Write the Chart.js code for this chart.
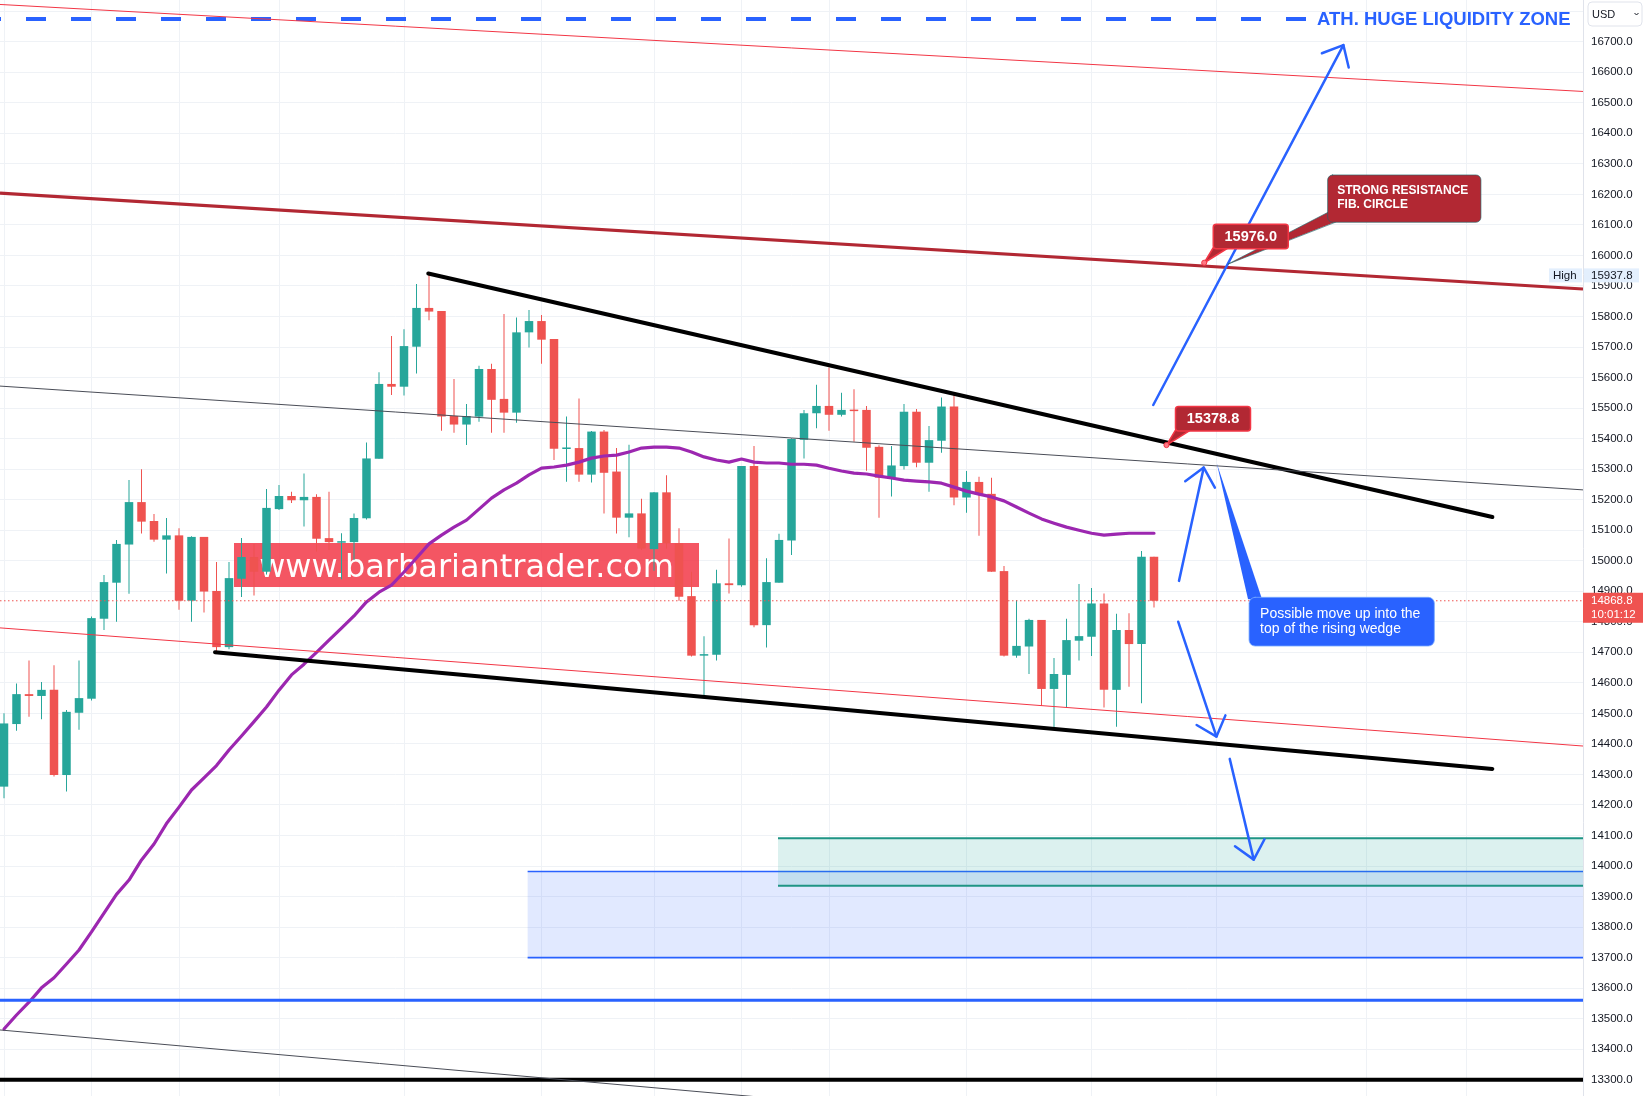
<!DOCTYPE html>
<html><head><meta charset="utf-8">
<script src="https://cdn.jsdelivr.net/npm/chart.js@4.4.1/dist/chart.umd.min.js"></script>
<style>html,body{margin:0;padding:0;background:#fff;overflow:hidden}canvas{display:block}</style>
</head><body>
<canvas id="c" width="1648" height="1096"></canvas>
<script>
// ---------------- DATA ----------------
const open  = [14260,14465,14563,14557,14577,14298,14502,14548,14810,14928,15053,15192,15130,15069,15083,14869,15078,14901,14717,14941,
               15012,14964,15169,15212,15198,15209,15074,15059,15061,15139,15334,15579,15570,15701,15828,15818,15474,15446,15472,15628,
               15530,15485,15748,15785,15726,15366,15369,15282,15423,15292,15141,15155,15038,15224,15057,14884,14689,14692,14926,14920,
               15310,14789,14928,15066,15396,15483,15507,15478,15494,15494,15373,15272,15310,15488,15321,15393,15505,15207,15258,15219,
               14966,14689,14719,14806,14580,14626,14738,14751,14860,14577,14773,14727,15013];
const high  = [14500,14598,14673,14603,14658,14511,14673,14817,14953,15068,15264,15300,15153,15140,15106,15080,15078,14996,14996,15074,
               15055,15235,15248,15226,15286,15218,15226,15090,15155,15387,15617,15736,15758,15906,15938,15818,15595,15513,15639,15645,
               15808,15797,15821,15805,15726,15472,15531,15425,15428,15369,15380,15203,15225,15280,15106,14964,14753,14970,15073,15310,
               15376,15008,15088,15401,15494,15576,15633,15550,15562,15507,15378,15376,15513,15497,15441,15535,15543,15294,15275,15272,
               14983,14871,14810,14806,14681,14810,14924,14911,14893,14826,14828,15032,15013];
const low   = [14222,14443,14489,14481,14293,14244,14446,14542,14773,14800,14892,15089,15062,14958,14839,14800,14830,14699,14710,14881,
               14886,14955,15166,15189,15112,15030,15035,14939,15002,15135,15334,15543,15541,15613,15788,15426,15419,15379,15455,15419,
               15419,15452,15698,15645,15330,15259,15259,15256,15155,15089,15077,15035,14967,15040,14869,14686,14555,14673,14893,14915,
               14782,14716,14928,15019,15335,15434,15426,15472,15390,15295,15141,15210,15299,15306,15226,15354,15182,15157,15082,14964,
               14686,14682,14629,14525,14448,14519,14673,14688,14519,14456,14587,14533,14847];
const close = [14467,14563,14557,14577,14298,14505,14550,14812,14930,15055,15192,15128,15069,15083,14869,15078,14899,14717,14943,15012,
               14964,15173,15212,15198,15209,15072,15061,15064,15140,15335,15579,15570,15703,15828,15816,15472,15446,15474,15628,15527,
               15485,15748,15785,15724,15367,15369,15282,15423,15288,15141,15155,15040,15224,15057,14882,14689,14694,14926,14920,15310,
               14789,14930,15068,15399,15483,15507,15478,15494,15490,15370,15272,15312,15488,15321,15395,15505,15207,15258,15217,14964,
               14689,14721,14806,14580,14629,14740,14753,14860,14577,14773,14727,15013,14868.8];
const ema   = [13466,13512,13554,13601,13634,13679,13725,13784,13846,13907,13954,14020,14072,14139,14193,14249,14289,14329,14380,14426,
               14473,14521,14576,14626,14661,14700,14740,14779,14819,14865,14897,14920,14963,15009,15055,15084,15110,15133,15169,15205,
               15232,15254,15281,15303,15307,15313,15323,15336,15343,15346,15356,15369,15372,15372,15369,15356,15340,15330,15323,15333,
               15323,15320,15320,15316,15316,15313,15303,15294,15287,15284,15277,15271,15264,15261,15258,15254,15241,15228,15218,15209,
               15196,15176,15156,15137,15123,15110,15100,15090,15084,15087,15090,15090,15090];
const gridIdx   = [0,7,14,22,32,43,52,59,66,77,87,97,109,117];
const lastPrice = 14868.8;
const lastTime  = '10:01:12';
const highPrice = 15937.8;

// drawn lines: [barIndex, price] pairs
const topRedLine     = [[-0.32,16822],[126.32,16537]];
const resistanceLine = [[-0.32,16204],[126.32,15890]];
const midGrayLine    = [[-0.32,15572],[126.32,15232]];
const lowRedLine     = [[-0.32,14780],[126.32,14393]];
const wedgeTop       = [[33.94,15941],[119.07,15143]];
const wedgeBottom    = [[16.88,14700],[119.07,14318]];
const bottomGrayLine = [[-0.32,13463],[126.32,13005]];
const athLevel = 16774, athEndIdx = 104.16, athTextIdx = 105.04;
const blackLevel = 13300;
const blueLevel  = 13560;
const greenZone = {fromIdx: 61.92, top: 14091, bottom: 13935};
const blueZone  = {fromIdx: 41.89, top: 13982, bottom: 13700};
const arrowFrom = [[91.94,15510],[94.0,14934],[93.94,14800],[98.06,14351]];
const arrowTo   = [[107.15,16689],[95.98,15305],[97.0,14424],[99.98,14021]];
const priceTagAt   = [[96.02,15976],[93.0,15378.8]];
const priceTagText = ['15976.0','15378.8'];
const redNoteTip   = [97.94,15972];
const redNoteText  = ['STRONG RESISTANCE','FIB. CIRCLE'];
const blueNoteTip  = [97.02,15319];
const blueNoteText = ['Possible move up into the','top of the rising wedge'];
const watermarkAt  = [18.4,15058];
const watermarkText = 'www.barbariantrader.com';
const athText = 'ATH. HUGE LIQUIDITY ZONE';

const xMin = -0.32, xMax = 126.32, yMin = 13246.7, yMax = 16836.6;

// ---------------- CHART ----------------
const idx = open.map((_, i) => i);
const col = idx.map(i => close[i] >= open[i] ? '#26a69a' : '#ef5350');
const RED = '#ef5350', BLUE = '#2962ff';

function seg(pts, color, width, extra) {
  return Object.assign({type:'line', data: pts.map(p => ({x:p[0], y:p[1]})), borderColor: color,
    borderWidth: width, pointRadius: 0, fill: false, tension: 0, clip: 0, order: 1}, extra || {});
}

function rrect(ctx, x, y, w, h, r) {
  ctx.beginPath(); ctx.moveTo(x + r, y);
  ctx.arcTo(x + w, y, x + w, y + h, r); ctx.arcTo(x + w, y + h, x, y + h, r);
  ctx.arcTo(x, y + h, x, y, r); ctx.arcTo(x, y, x + w, y, r); ctx.closePath();
}

const overlay = {
  id: 'overlay',
  beforeDatasetsDraw(chart) {
    const ctx = chart.ctx, X = chart.scales.x, Y = chart.scales.y, a = chart.chartArea;
    ctx.save();
    ctx.beginPath(); ctx.rect(a.left, a.top, a.right - a.left, a.bottom - a.top); ctx.clip();
    // watermark
    const wx = X.getPixelForValue(watermarkAt[0]), wy = Y.getPixelForValue(watermarkAt[1]);
    ctx.fillStyle = 'rgba(242,54,69,0.84)';
    ctx.fillRect(wx, wy, 465, 44);
    ctx.fillStyle = '#ffffff'; ctx.font = '32px "DejaVu Sans"'; ctx.textAlign = 'center'; ctx.textBaseline = 'alphabetic';
    ctx.fillText(watermarkText, wx + 232.5, wy + 34);
    // zones
    [[blueZone, 'rgba(41,98,255,0.14)', BLUE, 1.6], [greenZone, 'rgba(38,166,154,0.16)', '#1f9585', 2]].forEach(([z, fill, line, lw]) => {
      const x0 = X.getPixelForValue(z.fromIdx), yt = Y.getPixelForValue(z.top), yb = Y.getPixelForValue(z.bottom);
      ctx.fillStyle = fill; ctx.fillRect(x0, yt, a.right - x0, yb - yt);
      ctx.strokeStyle = line; ctx.lineWidth = lw;
      ctx.beginPath(); ctx.moveTo(x0, yt); ctx.lineTo(a.right, yt); ctx.moveTo(x0, yb); ctx.lineTo(a.right, yb); ctx.stroke();
    });
    ctx.restore();
  },
  afterDatasetsDraw(chart) {
    const ctx = chart.ctx, X = chart.scales.x, Y = chart.scales.y, a = chart.chartArea;
    ctx.save();
    ctx.beginPath(); ctx.rect(a.left, a.top, a.right - a.left, a.bottom - a.top); ctx.clip();
    // last price dotted line
    const ly = Y.getPixelForValue(lastPrice);
    ctx.strokeStyle = RED; ctx.lineWidth = 1; ctx.setLineDash([1.5, 2.5]);
    ctx.beginPath(); ctx.moveTo(a.left, ly); ctx.lineTo(a.right, ly); ctx.stroke();
    ctx.setLineDash([]);
    // ATH text
    ctx.fillStyle = BLUE; ctx.font = 'bold 18.5px "Liberation Sans"'; ctx.textAlign = 'left'; ctx.textBaseline = 'middle';
    ctx.fillText(athText, X.getPixelForValue(athTextIdx), Y.getPixelForValue(athLevel) + 1);
    // arrows
    ctx.strokeStyle = BLUE; ctx.lineWidth = 2.5; ctx.lineCap = 'round'; ctx.lineJoin = 'round';
    arrowFrom.forEach((f, k) => {
      const x1 = X.getPixelForValue(f[0]), y1 = Y.getPixelForValue(f[1]);
      const x2 = X.getPixelForValue(arrowTo[k][0]), y2 = Y.getPixelForValue(arrowTo[k][1]);
      ctx.beginPath(); ctx.moveTo(x1, y1); ctx.lineTo(x2, y2); ctx.stroke();
      const ang = Math.atan2(y1 - y2, x1 - x2), L = 23, s = 0.72;
      ctx.beginPath();
      ctx.moveTo(x2 + L * Math.cos(ang + s), y2 + L * Math.sin(ang + s));
      ctx.lineTo(x2, y2);
      ctx.lineTo(x2 + L * Math.cos(ang - s), y2 + L * Math.sin(ang - s));
      ctx.stroke();
    });
    // blue note
    {
      const tx = X.getPixelForValue(blueNoteTip[0]), ty = Y.getPixelForValue(blueNoteTip[1]);
      const bx = tx + 32.3, by = ty + 134, bw = 185.3, bh = 48.7;
      ctx.fillStyle = BLUE;
      ctx.beginPath(); ctx.moveTo(tx, ty); ctx.lineTo(bx - 1, by + 2); ctx.lineTo(bx + 13, by + 2); ctx.closePath(); ctx.fill();
      rrect(ctx, bx, by, bw, bh, 6); ctx.fill();
      ctx.strokeStyle = 'rgba(120,170,255,0.8)'; ctx.lineWidth = 1; ctx.stroke();
      ctx.fillStyle = '#ffffff'; ctx.font = '14px "Liberation Sans"'; ctx.textAlign = 'left'; ctx.textBaseline = 'middle';
      ctx.fillText(blueNoteText[0], bx + 11, by + 17);
      ctx.fillText(blueNoteText[1], bx + 11, by + 32);
    }
    // red note
    {
      const tx = X.getPixelForValue(redNoteTip[0]), ty = Y.getPixelForValue(redNoteTip[1]);
      const bx = tx + 99.4, by = ty - 89, bw = 153.3, bh = 47.3;
      ctx.fillStyle = '#b22833';
      ctx.beginPath(); ctx.moveTo(tx, ty); ctx.lineTo(bx + 1, by + 37); ctx.lineTo(bx + 8, by + bh - 0.5); ctx.closePath(); ctx.fill();
      ctx.strokeStyle = 'rgba(30,100,105,0.8)'; ctx.lineWidth = 0.8; ctx.stroke();
      rrect(ctx, bx, by, bw, bh, 5); ctx.fill(); ctx.stroke();
      ctx.fillStyle = '#ffffff'; ctx.font = 'bold 12px "Liberation Sans"'; ctx.textAlign = 'left'; ctx.textBaseline = 'middle';
      ctx.fillText(redNoteText[0], bx + 9.6, by + 16);
      ctx.fillText(redNoteText[1], bx + 9.6, by + 30);
    }
    // price tags
    priceTagAt.forEach((p, k) => {
      const dx = X.getPixelForValue(p[0]), dy = Y.getPixelForValue(p[1]);
      const bx = dx + 9, by = dy - 38.5, bw = 75, bh = 24.5;
      ctx.fillStyle = '#b22833'; ctx.strokeStyle = '#f23645'; ctx.lineWidth = 1.5;
      ctx.beginPath(); ctx.moveTo(dx, dy); ctx.lineTo(bx, by + bh - 1); ctx.lineTo(bx + 15, by + bh - 1); ctx.closePath(); ctx.fill(); ctx.stroke();
      rrect(ctx, bx, by, bw, bh, 3); ctx.fill(); ctx.stroke();
      ctx.fillStyle = '#ffffff'; ctx.font = 'bold 14.5px "Liberation Sans"'; ctx.textAlign = 'center'; ctx.textBaseline = 'middle';
      ctx.fillText(priceTagText[k], bx + bw / 2, by + bh / 2 + 0.5);
      ctx.beginPath(); ctx.arc(dx, dy, 2.6, 0, Math.PI * 2);
      ctx.fillStyle = '#ff7a86'; ctx.fill(); ctx.strokeStyle = '#f23645'; ctx.lineWidth = 1; ctx.stroke();
    });
    ctx.restore();
  },
  afterDraw(chart) {
    const ctx = chart.ctx, Y = chart.scales.y, a = chart.chartArea;
    ctx.save();
    ctx.font = '11.5px "Liberation Sans"'; ctx.textBaseline = 'middle'; ctx.textAlign = 'left';
    // High label
    const hy = Y.getPixelForValue(highPrice) + 1;
    ctx.fillStyle = '#e3effd';
    ctx.fillRect(1549, hy - 7, a.right - 1549 - 1, 14);
    ctx.fillRect(a.right + 1, hy - 7, 55, 14);
    ctx.fillStyle = '#131722';
    ctx.fillText('High', 1553, hy);
    ctx.fillText(highPrice.toFixed(1), 1591, hy);
    // last price label
    const ly = Y.getPixelForValue(lastPrice);
    ctx.fillStyle = RED; ctx.fillRect(a.right, ly - 8, 60, 30);
    ctx.fillStyle = '#ffffff';
    ctx.fillText(lastPrice.toFixed(1), 1591, ly + 0.5);
    ctx.fillText(lastTime, 1591, ly + 14);
    // USD box
    ctx.fillStyle = '#ffffff'; rrect(ctx, 1588, 2, 54, 24, 4); ctx.fill();
    ctx.strokeStyle = '#e0e3eb'; ctx.lineWidth = 1; ctx.stroke();
    ctx.fillStyle = '#131722'; ctx.font = '11px "Liberation Sans"';
    ctx.fillText('USD', 1592, 14.5);
    ctx.strokeStyle = '#131722'; ctx.lineWidth = 1;
    ctx.beginPath(); ctx.moveTo(1634.5, 13); ctx.lineTo(1636.5, 15); ctx.lineTo(1638.5, 13); ctx.stroke();
    ctx.restore();
  }
};

new Chart(document.getElementById('c'), {
  type: 'bar',
  data: {
    datasets: [
      {type:'bar', label:'wick', data: idx.map(i => ({x: i, y: [low[i], high[i]]})), backgroundColor: col,
        barThickness: 1, grouped: false, order: 6, minBarLength: 1, inflateAmount: 0, borderWidth: 0, borderSkipped: false},
      {type:'bar', label:'body', data: idx.map(i => ({x: i, y: [open[i], close[i]]})), backgroundColor: col,
        barThickness: 8.5, grouped: false, order: 5, minBarLength: 1.5, inflateAmount: 0, borderWidth: 0, borderSkipped: false},
      seg(idx.map(i => [i, ema[i]]), '#9c27b0', 3.2, {order: 4, borderJoinStyle: 'round', borderCapStyle: 'round'}),
      seg(topRedLine, '#f23645', 1),
      seg(resistanceLine, '#b22833', 3.2),
      seg(midGrayLine, '#4a4d57', 1),
      seg(lowRedLine, '#f23645', 1),
      seg(bottomGrayLine, '#4a4d57', 1),
      seg(wedgeTop, '#000000', 4, {borderCapStyle: 'round'}),
      seg(wedgeBottom, '#000000', 4, {borderCapStyle: 'round'}),
      seg([[xMin - 1, blackLevel], [xMax + 1, blackLevel]], '#000000', 4),
      seg([[xMin - 1, blueLevel], [xMax + 1, blueLevel]], BLUE, 3),
      seg([[xMin, athLevel], [athEndIdx, athLevel]], BLUE, 4, {borderDash: [20, 25], borderDashOffset: 19})
    ]
  },
  options: {
    responsive: false, animation: false, devicePixelRatio: 1, events: [],
    layout: {padding: 0},
    plugins: {legend: {display: false}, tooltip: {enabled: false}},
    scales: {
      x: {type: 'linear', min: xMin, max: xMax, offset: false, position: 'bottom',
        ticks: {display: false}, grid: {color: '#eff2f6', drawTicks: false, offset: false}, border: {display: false},
        afterBuildTicks(s) { s.ticks = gridIdx.map(v => ({value: v})); },
        afterFit(s) { s.height = 0; s.paddingLeft = 0; s.paddingRight = 0; }},
      y: {type: 'linear', position: 'right', min: yMin, max: yMax, beginAtZero: false,
        ticks: {stepSize: 100, includeBounds: false, autoSkip: false, padding: 8, color: '#131722',
          font: {size: 11.5, family: 'Liberation Sans'}, callback: v => v.toFixed(1)},
        grid: {color: '#eff2f6', drawTicks: false},
        border: {display: true, color: '#e0e3eb'},
        afterFit(s) { s.width = 65; s.paddingTop = 0; s.paddingBottom = 0; }}
    }
  },
  plugins: [overlay]
});
</script>
</body></html>
